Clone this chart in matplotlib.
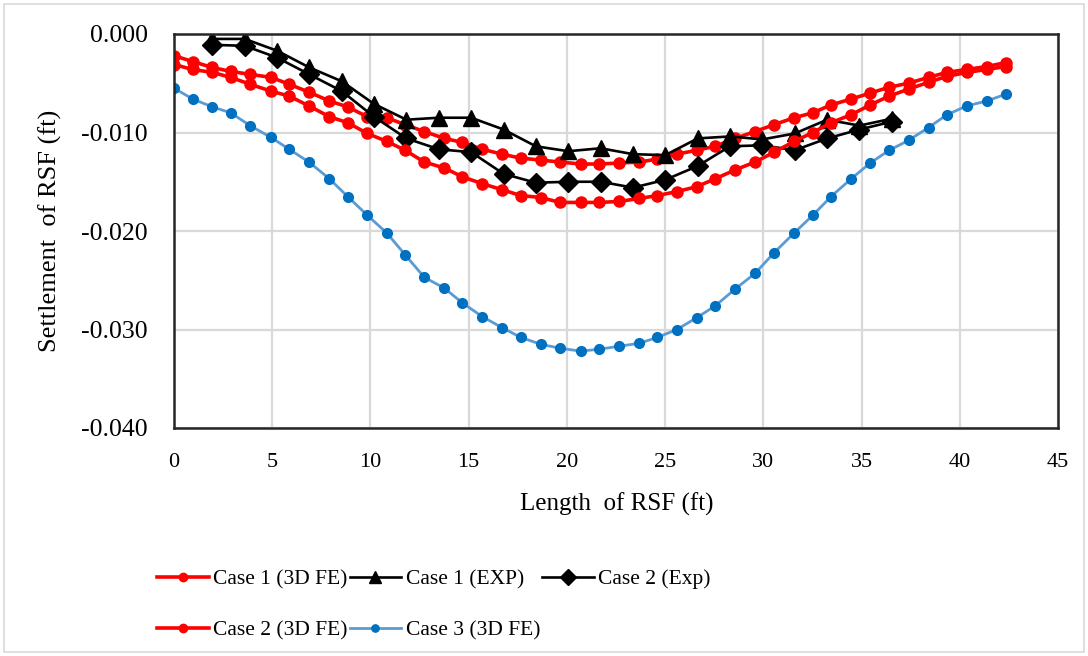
import matplotlib
matplotlib.use("Agg")
import matplotlib.pyplot as plt
from matplotlib.ticker import FuncFormatter, MultipleLocator
from matplotlib.patches import Rectangle

plt.rcParams['font.family'] = ['Liberation Serif', 'DejaVu Serif']

# Positions along the raft (ft) for the 3D FE results
fe_x = [0.0, 0.95, 1.95, 2.89, 3.87, 4.94, 5.86, 6.87, 7.91, 8.84, 9.84,
        10.83, 11.76, 12.74, 13.76, 14.68, 15.70, 16.69, 17.65, 18.67, 19.65,
        20.71, 21.65, 22.66, 23.68, 24.61, 25.60, 26.61, 27.55, 28.56, 29.58,
        30.55, 31.57, 32.52, 33.45, 34.47, 35.44, 36.41, 37.39, 38.41, 39.34,
        40.36, 41.38, 42.35]

case1_fe = [-0.0022, -0.0028, -0.0034, -0.0038, -0.0041, -0.0044, -0.0051,
            -0.0059, -0.0068, -0.0074, -0.0084, -0.0085, -0.0092, -0.0099,
            -0.0106, -0.0110, -0.0117, -0.0122, -0.0126, -0.0128, -0.0130,
            -0.0132, -0.0132, -0.0131, -0.0130, -0.0127, -0.0122, -0.0118,
            -0.0114, -0.0106, -0.0099, -0.0092, -0.0085, -0.0080, -0.0072,
            -0.0066, -0.0060, -0.0054, -0.0050, -0.0044, -0.0039, -0.0036,
            -0.0033, -0.0029]

case2_fe = [-0.0031, -0.0036, -0.0039, -0.0044, -0.0051, -0.0058, -0.0063,
            -0.0073, -0.0084, -0.0090, -0.0101, -0.0109, -0.0118, -0.0130,
            -0.0136, -0.0145, -0.0152, -0.0158, -0.0164, -0.0166, -0.0171,
            -0.0171, -0.0171, -0.0170, -0.0167, -0.0164, -0.0160, -0.0155,
            -0.0147, -0.0138, -0.0130, -0.0120, -0.0109, -0.0100, -0.0090,
            -0.0082, -0.0072, -0.0063, -0.0056, -0.0049, -0.0043, -0.0039,
            -0.0036, -0.0033]

case3_fe = [-0.0055, -0.0066, -0.0074, -0.0080, -0.0093, -0.0105, -0.0117,
            -0.0130, -0.0147, -0.0165, -0.0184, -0.0202, -0.0224, -0.0247,
            -0.0258, -0.0273, -0.0287, -0.0298, -0.0308, -0.0315, -0.0319,
            -0.0322, -0.0320, -0.0317, -0.0314, -0.0308, -0.0300, -0.0288,
            -0.0276, -0.0259, -0.0243, -0.0222, -0.0202, -0.0184, -0.0165,
            -0.0147, -0.0131, -0.0118, -0.0108, -0.0095, -0.0082, -0.0073,
            -0.0068, -0.0061]

# Measurement stations (ft) for the experiments
exp_x = [1.95, 3.60, 5.25, 6.89, 8.54, 10.18, 11.83, 13.48, 15.13, 16.78,
         18.42, 20.07, 21.72, 23.37, 25.01, 26.66, 28.30, 29.95, 31.60,
         33.25, 34.89, 36.54]

case1_exp = [-0.0005, -0.0005, -0.0017, -0.0034, -0.0048, -0.0071, -0.0087,
             -0.0085, -0.0085, -0.0097, -0.0114, -0.0119, -0.0116, -0.0122,
             -0.0123, -0.0106, -0.0104, -0.0107, -0.0101, -0.0087, -0.0093,
             -0.0086]

case2_exp = [-0.0011, -0.0012, -0.0024, -0.0041, -0.0058, -0.0084, -0.0106,
             -0.0117, -0.0120, -0.0142, -0.0151, -0.0150, -0.0150, -0.0156,
             -0.0148, -0.0134, -0.0114, -0.0113, -0.0118, -0.0106, -0.0097,
             -0.0089]

x_ticks = [0, 5, 10, 15, 20, 25, 30, 35, 40, 45]

W, H = 1088, 656
fig = plt.figure(figsize=(W / 100, H / 100), dpi=100)
fig.patches.append(Rectangle((4 / W, 4 / H), 1 - 8 / W, 1 - 8 / H,
                             transform=fig.transFigure, fill=False,
                             edgecolor='#d9d9d9', linewidth=1.2))

ax = fig.add_axes([174 / W, 1 - 428 / H, 884 / W, 394 / H])

red = '#ff0000'
l1, = ax.plot(fe_x, case1_fe, color=red, lw=2.6, marker='o', ms=8,
              label='Case 1 (3D FE)')
l2, = ax.plot(exp_x, case1_exp, color='black', lw=1.9, marker='^', ms=12,
              label='Case 1 (EXP)')
l3, = ax.plot(exp_x, case2_exp, color='black', lw=1.9, marker='D', ms=10.5,
              label='Case 2 (Exp)')
l4, = ax.plot(fe_x, case2_fe, color=red, lw=2.6, marker='o', ms=8,
              label='Case 2 (3D FE)')
l5, = ax.plot(fe_x, case3_fe, color='#5b9bd5', lw=2.0, marker='o', ms=7,
              markerfacecolor='#0070c0', markeredgecolor='#0070c0',
              label='Case 3 (3D FE)')

ax.set_xlim(0, 45)
ax.set_ylim(-0.04, 0.0)
ax.set_xticks(x_ticks)
ax.yaxis.set_major_locator(MultipleLocator(0.01))
ax.yaxis.set_major_formatter(FuncFormatter(
    lambda v, p: '0.000' if abs(v) < 1e-12 else f'{v:.3f}'))
ax.grid(True, color='#d9d9d9', lw=1.6)
ax.set_axisbelow(True)
for s in ax.spines.values():
    s.set_linewidth(1.8)
    s.set_color('#262626')
ax.tick_params(axis='both', length=0)
ax.tick_params(axis='y', labelsize=18.5, pad=19)
ax.tick_params(axis='x', labelsize=16, pad=18)

ax.set_xlabel('Length  of RSF (ft)', fontsize=18)
ax.set_ylabel('Settlement  of RSF (ft)', fontsize=19)
ax.xaxis.set_label_coords(0.501, -0.165)
ax.yaxis.set_label_coords(-0.127, 0.5)

handles = [l1, l4, l2, l5, l3]
fig.legend(handles=handles, labels=[h.get_label() for h in handles],
           ncol=3, loc='upper left', bbox_to_anchor=(157 / W, 1 - 569 / H),
           frameon=False, fontsize=15.5, handlelength=2.4, handletextpad=0.2,
           columnspacing=0.1, labelspacing=1.45, markerscale=0.75,
           borderaxespad=0, borderpad=0)

fig.savefig('out.png', dpi=100)
